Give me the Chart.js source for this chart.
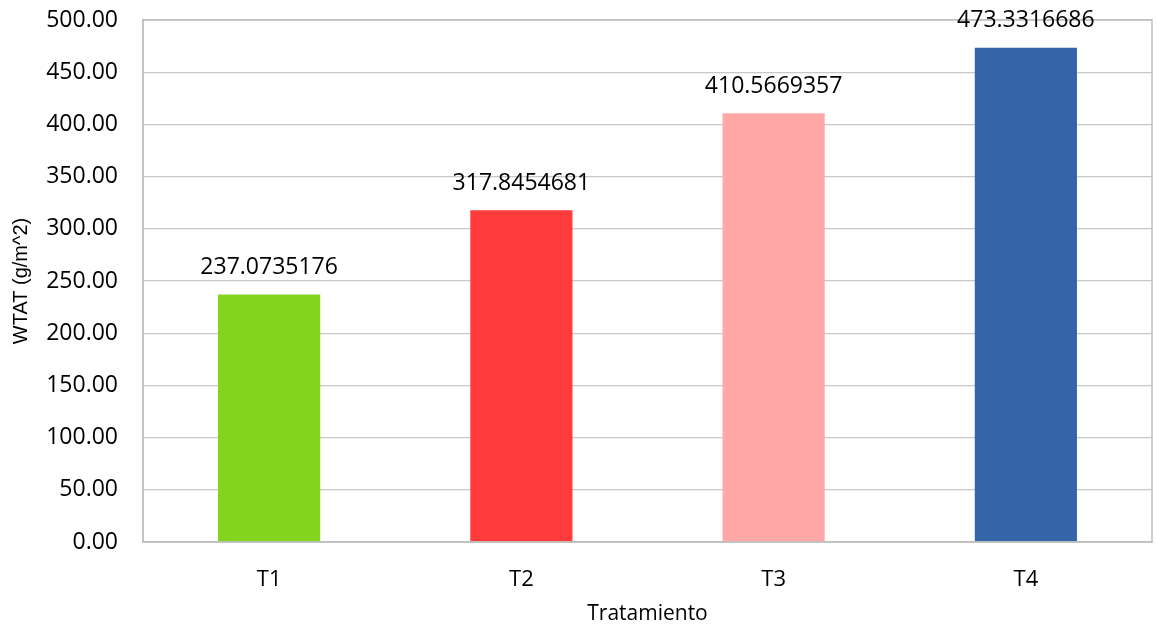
<!DOCTYPE html>
<html>
<head>
<meta charset="utf-8">
<script src="https://cdn.jsdelivr.net/npm/chart.js@4"></script>
<style>
  html, body { margin: 0; padding: 0; background: #ffffff; }
  #wrap { width: 1157px; height: 627px; position: relative; }
</style>
</head>
<body>
<div id="wrap"><canvas id="chart"></canvas></div>
<script>
// Treatments and their WTAT values (g/m^2)
const categories = ['T1', 'T2', 'T3', 'T4'];
const wtatValues = [237.0735176, 317.8454681, 410.5669357, 473.3316686];
const valueLabels = ['237.0735176', '317.8454681', '410.5669357', '473.3316686'];
const barColors = ['#83D41C', '#FF3B3B', '#FFA6A6', '#3465A8'];
const yTicks = [0, 50, 100, 150, 200, 250, 300, 350, 400, 450, 500];

const FONT = "'Open Sans', sans-serif";

// Frame around the plot area plus value labels above each bar
const framePlugin = {
  id: 'frameAndLabels',
  afterDatasetsDraw(chart) {
    const { ctx, chartArea: a } = chart;
    ctx.save();
    ctx.strokeStyle = '#BFBFBF';
    ctx.lineWidth = 1.5;
    ctx.strokeRect(a.left, a.top, a.right - a.left, a.bottom - a.top);

    const meta = chart.getDatasetMeta(0);
    ctx.fillStyle = '#000000';
    ctx.font = '23px ' + FONT;
    ctx.textAlign = 'center';
    ctx.textBaseline = 'middle';
    meta.data.forEach((bar, i) => {
      ctx.fillText(valueLabels[i], bar.x, bar.y - 27);
    });
    ctx.restore();
  }
};

new Chart(document.getElementById('chart'), {
  type: 'bar',
  data: {
    labels: categories,
    datasets: [{
      data: wtatValues,
      backgroundColor: barColors,
      borderWidth: 0,
      categoryPercentage: 1.0,
      barPercentage: 0.405
    }]
  },
  options: {
    responsive: true,
    maintainAspectRatio: false,
    animation: false,
    devicePixelRatio: 1,
    layout: { padding: { top: 20, right: 5, left: 0, bottom: 0 } },
    plugins: {
      legend: { display: false },
      tooltip: { enabled: false }
    },
    scales: {
      x: {
        grid: { display: false, drawTicks: false },
        border: { display: true, color: '#BFBFBF', width: 1.5 },
        ticks: { color: '#000000', font: { family: FONT, size: 22 }, padding: 25 },
        title: {
          display: true,
          text: 'Tratamiento',
          color: '#000000',
          font: { family: FONT, size: 21 },
          padding: { top: 7, bottom: 0 }
        },
        afterFit(scale) { scale.height = 85; }
      },
      y: {
        min: 0,
        max: 500,
        afterBuildTicks(scale) { scale.ticks = yTicks.map(v => ({ value: v })); },
        // invisible tick marks keep the labels clear of the axis
        grid: { color: '#C8C8C8', lineWidth: 1.3, drawTicks: true, tickLength: 25, tickColor: 'rgba(0,0,0,0)' },
        border: { display: true, color: '#BFBFBF', width: 1.5 },
        ticks: {
          color: '#000000',
          font: { family: FONT, size: 23 },
          padding: 0,
          callback: (v) => Number(v).toFixed(2)
        },
        title: {
          display: true,
          text: 'WTAT (g/m^2)',
          color: '#000000',
          font: { family: "'Liberation Sans', Arial, sans-serif", size: 20 },
          padding: { top: 9, bottom: 0 }
        },
        afterFit(scale) { scale.width = 143; }
      }
    }
  },
  plugins: [framePlugin]
});
</script>
</body>
</html>
